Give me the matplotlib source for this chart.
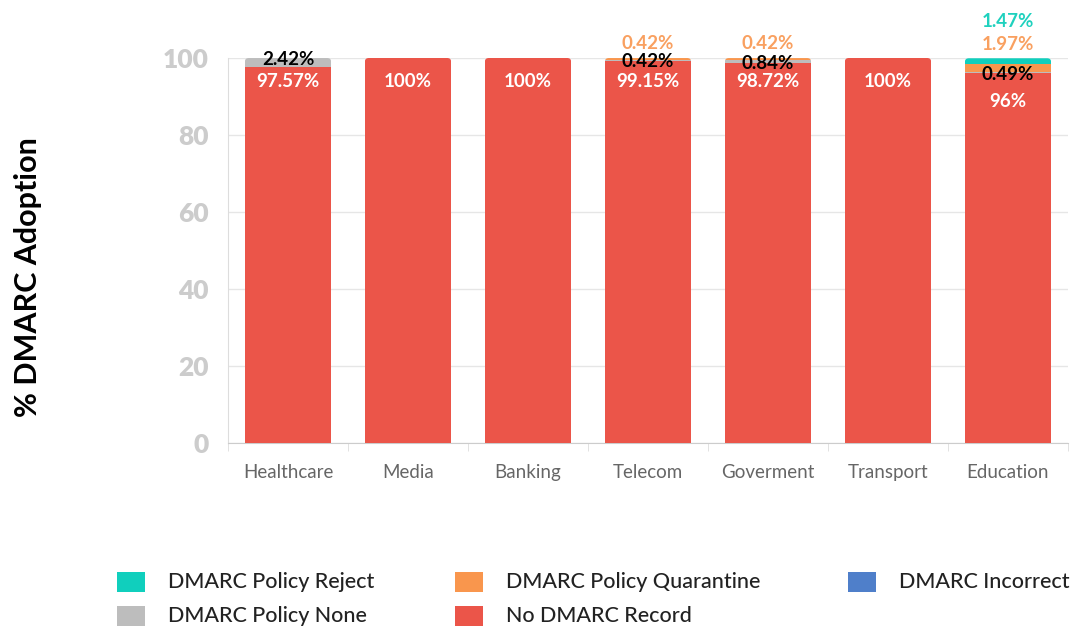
import matplotlib
matplotlib.use("Agg")
import matplotlib.pyplot as plt
from matplotlib.patches import Rectangle, FancyBboxPatch
import numpy as np

categories = ["Healthcare", "Media", "Banking", "Telecom", "Goverment", "Transport", "Education"]
no_record = [97.57, 100, 100, 99.15, 98.72, 100, 96]
incorrect = [0, 0, 0, 0, 0, 0, 0]
policy_none = [2.42, 0, 0, 0.42, 0.84, 0, 0.49]
quarantine = [0, 0, 0, 0.42, 0.42, 0, 1.97]
reject = [0, 0, 0, 0, 0, 0, 1.47]
yticks = [0, 20, 40, 60, 80, 100]

series = [
    ("No DMARC Record", no_record, "#EB5549", "white"),
    ("DMARC Incorrect", incorrect, "#4F7FCA", "#4F7FCA"),
    ("DMARC Policy None", policy_none, "#BDBDBD", "black"),
    ("DMARC Policy Quarantine", quarantine, "#F9964D", "#F9A060"),
    ("DMARC Policy Reject", reject, "#10CFBD", "#1FD1BE"),
]

plt.rcParams['font.family'] = ['Lato', 'DejaVu Sans']
W, H = 1078, 628
fig = plt.figure(figsize=(W / 100, H / 100), dpi=100)
ax_w_px, ax_h_px = 840, 385
ax = fig.add_axes([228/W, 185/H, ax_w_px/W, ax_h_px/H])

x = np.arange(len(categories))
width = 0.72
ax.set_xlim(-0.5, len(categories) - 0.5)
ax.set_ylim(0, 100)

bottom = np.zeros(len(categories))
containers = []
for name, vals, color, _ in series:
    vals = np.array(vals, dtype=float)
    containers.append(ax.bar(x, vals, width, bottom=bottom, color=color, edgecolor="none", zorder=3))
    bottom += vals
totals = bottom.copy()

# rounded top corners for each stacked bar
px_x = ax_w_px / len(categories)   # pixels per x unit
px_y = ax_h_px / 100.0             # pixels per y unit
radius_px = 4
for i in range(len(categories)):
    clip = FancyBboxPatch((x[i] - width / 2, -10), width, totals[i] + 10,
                          boxstyle=f"round,pad=0,rounding_size={radius_px / px_x}",
                          mutation_aspect=px_x / px_y, transform=ax.transData,
                          facecolor="none", edgecolor="none")
    for cont in containers:
        cont.patches[i].set_clip_path(clip)

# data label placement (mimics the reference's collision-avoided layout)
lab_pos = {
    0: {"default": 94.0, "Education": 88.8},
    2: {"Healthcare": 99.6, "Telecom": 99.2, "Goverment": 98.7, "Education": 95.6},
    3: {"Telecom": 103.7, "Goverment": 103.7, "Education": 103.4},
    4: {"Education": 109.6},
}
for i, cat in enumerate(categories):
    for si, (name, vals, color, tcolor) in enumerate(series):
        v = vals[i]
        if v <= 0 or si not in lab_pos:
            continue
        pos = lab_pos[si]
        y = pos.get(cat, pos.get("default"))
        ax.text(x[i], y, f"{v:g}%", ha="center", va="center", color=tcolor,
                fontsize=13.5, fontweight="bold", zorder=5, clip_on=False)

ax.set_yticks(yticks)
ax.set_yticklabels([str(t) for t in yticks], fontsize=19, fontweight="heavy", color="#CCCCCC")
ax.set_xticks(x)
ax.set_xticklabels(categories, fontsize=13.5, color="#666666")
ax.set_xticks(np.arange(-0.5, len(categories)), minor=True)
ax.tick_params(axis="x", which="major", length=0, pad=15)
ax.tick_params(axis="x", which="minor", length=6, color="#DDDDDD")
ax.tick_params(axis="y", length=0, pad=14)
ax.grid(axis="y", color="#E6E6E6", linewidth=1, zorder=0)
for s in ["top", "right"]:
    ax.spines[s].set_visible(False)
ax.spines["left"].set_color("#DDDDDD")
ax.spines["bottom"].set_color("#CCCCCC")
ax.set_ylabel("% DMARC Adoption", fontsize=22, fontweight="bold", color="black")
ax.yaxis.set_label_coords((42 - 228) / ax_w_px, (443 - 277) / ax_h_px)

# legend laid out row-wise like the reference
legend_rows = [[4, 3, 1], [2, 0]]
col_x = [117, 455, 848]
row_y = [582, 616]
sq_w, sq_h = 28, 20
for r, row in enumerate(legend_rows):
    for c, k in enumerate(row):
        name, _, color, _ = series[k]
        fig.patches.append(Rectangle((col_x[c] / W, 1 - (row_y[r] + sq_h / 2) / H), sq_w / W, sq_h / H,
                                     transform=fig.transFigure, facecolor=color, edgecolor="none"))
        fig.text((col_x[c] + 51) / W, 1 - row_y[r] / H, name, ha="left", va="center",
                 fontsize=15.5, color="#222222", fontweight="medium")

fig.savefig("out.png", dpi=100)
